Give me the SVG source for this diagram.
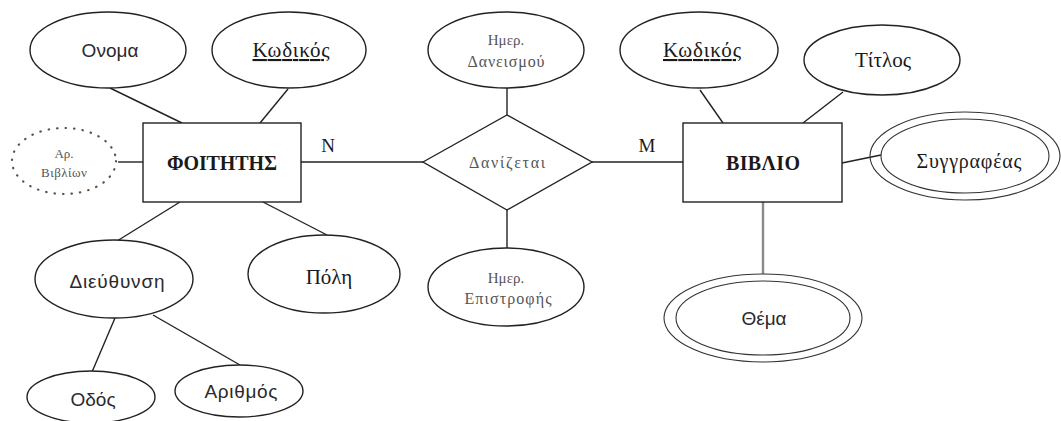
<svg xmlns="http://www.w3.org/2000/svg" width="1061" height="421" viewBox="0 0 1061 421">
<style>
.bg{fill:#fff}
.sh{fill:#fff;stroke:#222;stroke-width:1.4}
.thin{fill:none;stroke:#333;stroke-width:1.1}
.dot{fill:#fff;stroke:#555;stroke-width:2.2;stroke-dasharray:0.5 8;stroke-linecap:round}
.ln{stroke:#222;stroke-width:1.4;fill:none}
.gr{stroke:#8a8a8a;stroke-width:2.4;fill:none}
.sans{font-family:"Liberation Sans",Arial,sans-serif;fill:#2a2a2a;text-anchor:middle}
.serif{font-family:"Liberation Serif","Times New Roman",serif;fill:#1a1a1a;text-anchor:middle}
.light{fill:#555}
</style>
<rect class="bg" x="0" y="0" width="1061" height="421"/>
<g id="connectors">
<line class="ln" x1="110" y1="88" x2="182" y2="123"/>
<line class="ln" x1="288" y1="89" x2="260" y2="123"/>
<line class="ln" x1="118" y1="162" x2="143" y2="162"/>
<line class="ln" x1="180" y1="202" x2="117" y2="241"/>
<line class="ln" x1="263" y1="202" x2="327" y2="235"/>
<line class="ln" x1="115" y1="318" x2="92" y2="372"/>
<line class="ln" x1="153" y1="315" x2="240" y2="365"/>
<line class="ln" x1="301" y1="162" x2="423" y2="162"/>
<line class="ln" x1="592" y1="162" x2="683" y2="162"/>
<line class="ln" x1="507" y1="88" x2="507" y2="115"/>
<line class="ln" x1="507" y1="210" x2="507" y2="248"/>
<line class="ln" x1="700" y1="90" x2="723" y2="123"/>
<line class="ln" x1="843" y1="92" x2="803" y2="123"/>
<line class="ln" x1="842" y1="163" x2="881" y2="155"/>
<line class="gr" x1="763" y1="202" x2="763" y2="274"/>
<text class="serif" x="328" y="152" font-size="19">N</text>
<text class="serif" x="647" y="152" font-size="19">M</text>
</g>
<g id="onoma">
<ellipse class="sh" cx="108" cy="50" rx="78" ry="38"/>
<text class="sans" x="110" y="57" font-size="19">Ονομα</text>
</g>
<g id="kodikos-foititi">
<ellipse class="sh" cx="289" cy="50" rx="77" ry="38"/>
<text class="serif" x="291" y="57" font-size="21" text-decoration="underline" textLength="77">Κωδικός</text>
</g>
<g id="ar-vivlion">
<ellipse class="dot" cx="64" cy="161" rx="52" ry="33"/>
<text class="serif light" x="64" y="158" font-size="13">Αρ.</text>
<text class="serif light" x="64" y="177" font-size="13" textLength="46">Βιβλίων</text>
</g>
<g id="foititis">
<rect class="sh" x="143" y="123" width="158" height="79"/>
<text class="serif" x="222" y="170" font-size="20" textLength="110" font-weight="bold" fill="#222">ΦΟΙΤΗΤΗΣ</text>
</g>
<g id="dieuthynsi">
<ellipse class="sh" cx="114" cy="279" rx="79" ry="39"/>
<text class="sans" x="117" y="288" font-size="19" textLength="95">Διεύθυνση</text>
</g>
<g id="poli">
<ellipse class="sh" cx="324" cy="274" rx="76" ry="39"/>
<text class="serif" x="329" y="284" font-size="21">Πόλη</text>
</g>
<g id="odos">
<ellipse class="sh" cx="91" cy="397" rx="64" ry="26"/>
<text class="sans" x="93" y="406" font-size="19">Οδός</text>
</g>
<g id="arithmos">
<ellipse class="sh" cx="239" cy="391" rx="64" ry="26"/>
<text class="sans" x="241" y="398" font-size="19" textLength="73">Αριθμός</text>
</g>
<g id="danizetai">
<polygon class="sh" points="423,162 507,115 592,162 507,210"/>
<text class="serif light" x="507" y="168" font-size="16" textLength="76">Δανίζεται</text>
</g>
<g id="imer-daneismou">
<ellipse class="sh" cx="506" cy="50" rx="78" ry="38"/>
<text class="serif light" x="506" y="45" font-size="15">Ημερ.</text>
<text class="serif light" x="506" y="67" font-size="16" textLength="77">Δανεισμού</text>
</g>
<g id="imer-epistrofis">
<ellipse class="sh" cx="506" cy="287" rx="78" ry="39"/>
<text class="serif light" x="506" y="283" font-size="15">Ημερ.</text>
<text class="serif light" x="508" y="304" font-size="16" textLength="87">Επιστροφής</text>
</g>
<g id="vivlio">
<rect class="sh" x="683" y="123" width="159" height="79"/>
<text class="serif" x="763" y="170" font-size="20" textLength="74" font-weight="bold" fill="#222">ΒΙΒΛΙΟ</text>
</g>
<g id="kodikos-vivliou">
<ellipse class="sh" cx="699" cy="50" rx="79" ry="38"/>
<text class="serif" x="702" y="57" font-size="21" text-decoration="underline" textLength="78">Κωδικός</text>
</g>
<g id="titlos">
<ellipse class="sh" cx="882" cy="60" rx="78" ry="35"/>
<text class="serif" x="883" y="67" font-size="21">Τίτλος</text>
</g>
<g id="syggrafeas">
<ellipse class="thin" cx="965" cy="156" rx="95" ry="44"/>
<ellipse class="thin" cx="965" cy="156" rx="84" ry="37"/>
<text class="serif" x="969" y="168" font-size="20" textLength="105">Συγγραφέας</text>
</g>
<g id="thema">
<ellipse class="thin" cx="763" cy="318" rx="99" ry="44"/>
<ellipse class="thin" cx="763" cy="318" rx="87" ry="37"/>
<text class="sans" x="764" y="325" font-size="19" fill="#222">Θέμα</text>
</g>
</svg>
